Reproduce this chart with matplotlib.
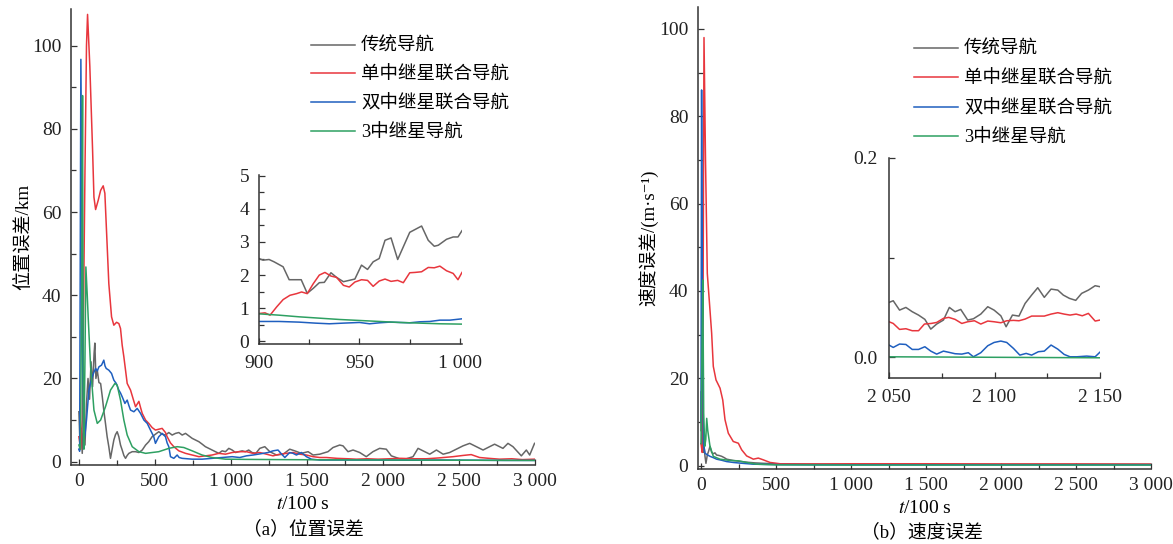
import matplotlib
matplotlib.use("Agg")
import matplotlib.pyplot as plt
from matplotlib.ticker import MultipleLocator, FuncFormatter, FormatStrFormatter

plt.rcParams['font.family'] = ['Liberation Serif', 'Noto Sans CJK SC', 'DejaVu Sans']
plt.rcParams['mathtext.fontset'] = 'stix'

labels = ["传统导航", "单中继星联合导航", "双中继星联合导航", "3中继星导航"]
colors = ["#666666", "#E8363D", "#1F5FBF", "#2EA062"]

# ---- position error, full run ----
pos_t_gray = [0, 8, 15, 22, 30, 40, 50, 60, 70, 80, 90, 100, 105, 112, 121, 132, 143, 154, 165, 175,
              186, 197, 208, 219, 230, 241, 252, 263, 274, 285, 296, 307, 318, 329, 351, 373, 395, 417,
              439, 460, 482, 504, 526, 548, 570, 592, 614, 636, 658, 680, 702, 724, 746, 768, 790, 812,
              833, 855, 877, 899, 921, 943, 965, 987, 1009, 1031, 1053, 1075, 1096, 1118, 1140, 1165,
              1191, 1224, 1257, 1301, 1345, 1388, 1421, 1465, 1509, 1542, 1586, 1640, 1673, 1717, 1739,
              1772, 1805, 1849, 1892, 1936, 1980, 2024, 2057, 2112, 2156, 2200, 2233, 2277, 2310, 2354,
              2398, 2441, 2496, 2529, 2573, 2617, 2661, 2704, 2737, 2792, 2825, 2858, 2913, 2946, 2968, 3000]
pos_gray = [12, 4, 8, 2, 10, 4, 14, 20, 15, 24, 18, 26, 28.5, 20, 22, 19, 18.8, 15.6, 12, 9.2,
            6, 3.6, 0.8, 3, 5.2, 6.5, 7.2, 6, 4, 2.8, 1.5, 0.8, 1.5, 2, 2.4, 2.4, 2.2, 2.8,
            4, 4.8, 6, 6.6, 7.2, 6.6, 6.4, 7, 6.4, 6.8, 7, 6.4, 6.8, 6.2, 5.6, 5.2, 4.8, 4.2,
            3.6, 3.2, 2.8, 2.4, 2, 2.6, 2.4, 3.2, 2.8, 2.2, 2.4, 2.6, 2.4, 2.8, 2.2, 2.0,
            3.2, 3.6, 2.4, 1.6, 1.8, 3.0, 2.6, 2.0, 2.4, 1.6, 1.8, 2.4, 3.4, 4.0, 3.8,
            2.4, 2.8, 2.2, 1.2, 2.4, 3.2, 3.0, 1.4, 0.7, 0.7, 1.2, 3.2, 2.4, 1.8, 2.8,
            1.8, 2.2, 3.2, 3.8, 4.4, 3.6, 2.8, 3.6, 4.2, 3.2, 4.4, 3.6, 1.4, 2.8, 1.6, 4.4]

pos_t_red = [0, 12, 22, 30, 40, 50, 57, 72, 90, 99, 110, 127, 143, 160, 171, 186, 197, 215, 230, 248,
             263, 274, 285, 296, 318, 340, 362, 373, 395, 406, 417, 439, 460, 482, 504, 526, 548, 570,
             581, 603, 625, 658, 702, 746, 790, 833, 877, 921, 965, 1009, 1053, 1103, 1147, 1191, 1235,
             1278, 1322, 1366, 1410, 1454, 1498, 1542, 1586, 1630, 1700, 1770, 1827, 1900, 1970, 2046,
             2120, 2200, 2288, 2370, 2463, 2530, 2583, 2638, 2700, 2770, 2850, 2920, 3000]
pos_red = [6, 3, 10, 35, 70, 100, 107.5, 95, 75, 63.6, 60.6, 62.8, 65.2, 66.3, 64.5, 52, 42.8, 34.8, 32.8, 33.5,
           33.2, 32, 28, 25.2, 18.8, 17.2, 14.5, 13.2, 14.5, 13, 11.6, 10, 9.2, 8.2, 7.6, 7.8, 8, 7,
           6, 4.5, 3.6, 2.6, 2, 1.6, 1.2, 1.4, 1.6, 2, 1.8, 2.2, 2.4, 2.4, 2.0, 2.2, 1.8,
           1.4, 1.8, 2.0, 2.2, 1.8, 1.6, 1.2, 1.0, 1.0, 0.8, 0.7, 0.6, 0.7, 0.6, 0.7,
           0.8, 0.7, 0.7, 0.9, 1.2, 1.5, 1.7, 1.0, 0.8, 0.6, 0.7, 0.5, 0.6]

pos_t_blue = [0, 5, 13, 20, 26, 32, 40, 50, 66, 77, 88, 99, 110, 121, 132, 149, 164, 172, 180, 197,
              215, 230, 246, 263, 274, 285, 303, 318, 329, 340, 362, 384, 406, 428, 450, 471, 493, 504,
              526, 548, 570, 581, 592, 603, 625, 647, 660, 680, 746, 811, 877, 943, 1009, 1059, 1103,
              1147, 1180, 1213, 1245, 1278, 1311, 1335, 1356, 1388, 1410, 1432, 1465, 1498, 1531, 1586,
              1700, 1936, 2200, 2375, 2600, 2800, 3000]
pos_blue = [3, 2.5, 96.7, 60, 20, 5, 6.5, 10, 17.2, 19, 20.4, 21.5, 22.4, 21.8, 22.8, 23.2, 24.4, 23, 22.4, 22,
            21.2, 19.6, 18.8, 17.2, 16.5, 15.6, 14, 14.8, 13.5, 12.4, 12, 12.8, 11.6, 10, 9.2, 7.6, 6, 4.4,
            6, 6.8, 6, 4.5, 3.6, 1.2, 0.8, 1.6, 1.0, 0.8, 0.6, 0.6, 0.8, 1.0, 1.2, 1.0, 1.4,
            1.6, 1.8, 2.0, 2.2, 2.6, 2.8, 1.8, 1.0, 2.2, 2.0, 1.6, 2.2, 1.2, 0.6, 0.4,
            0.4, 0.4, 0.35, 0.4, 0.35, 0.3, 0.3]

pos_t_green = [0, 10, 18, 24, 29, 33, 40, 46, 55, 61, 77, 99, 121, 143, 175, 208, 237, 252, 274, 296,
               318, 351, 395, 439, 482, 526, 592, 647, 691, 746, 811, 877, 965, 1096, 1300, 1600, 2000,
               2500, 3000]
pos_green = [4, 3, 40, 88, 10, 3, 25, 46.8, 40, 34.8, 22.8, 12.4, 9.2, 10, 13.2, 17.2, 18.8, 18.4, 14.8, 10,
             6.4, 3.6, 2.4, 2, 2.2, 2.4, 3.2, 3.6, 3.4, 2.6, 1.6, 1.0, 0.6, 0.55, 0.5, 0.45, 0.4,
             0.35, 0.3]

# ---- position error, 900-1000 detail ----
pz_t_gray = [900, 902, 905, 907.5, 912, 915, 918, 921, 924, 927, 930, 932.5, 935.8, 938.6, 942, 947.7,
             951, 954, 956.8, 959.8, 962.7, 965.7, 969, 975, 980.9, 984.2, 987.2, 989.2, 993.3, 996.6,
             999, 1001]
pz_gray = [2.5, 2.45, 2.47, 2.4, 2.25, 1.86, 1.86, 1.86, 1.45, 1.6, 1.77, 1.78, 2.07, 1.93, 1.8, 1.88,
           2.3, 2.17, 2.4, 2.5, 3.05, 3.12, 2.47, 3.29, 3.48, 3.05, 2.87, 2.9, 3.08, 3.15,
           3.15, 3.34]

pz_t_red = [900, 903, 905.5, 908.8, 912, 915.4, 918.7, 921.2, 924, 927, 930, 932.8, 935.8, 938.6, 942,
            944.9, 947.7, 951, 954, 956.8, 959.8, 962.7, 965.7, 969, 971.8, 975, 977.6, 980.9, 984.2,
            987.2, 990, 993.3, 996.6, 999, 1001]
pz_red = [0.84, 0.86, 0.79, 1.04, 1.26, 1.39, 1.44, 1.49, 1.44, 1.74, 2.0, 2.08, 1.97, 1.93, 1.69,
          1.64, 1.79, 1.86, 1.84, 1.66, 1.82, 1.88, 1.81, 1.84, 1.77, 2.07, 2.08, 2.1, 2.23,
          2.22, 2.27, 2.13, 2.05, 1.86, 2.08]

pz_t_blue = [900, 910, 920, 928, 935, 942, 950, 955, 960, 965, 970, 975, 980, 985, 990, 995, 1001]
pz_blue = [0.6, 0.6, 0.58, 0.55, 0.53, 0.55, 0.57, 0.53, 0.56, 0.58, 0.57, 0.56, 0.59, 0.6, 0.64, 0.64, 0.68]

pz_t_green = [900, 910, 920, 930, 940, 950, 960, 970, 980, 990, 1001]
pz_green = [0.83, 0.79, 0.74, 0.7, 0.66, 0.63, 0.6, 0.57, 0.55, 0.53, 0.52]

# ---- velocity error, full run ----
vel_t_gray = [0, 3, 6, 10, 14, 20, 27, 33, 42, 50, 60, 71, 82, 93, 104, 120, 138, 155, 171, 193,
              215, 260, 304, 360, 415, 500, 700, 1000, 1500, 2000, 2500, 3000]
vel_gray = [8, 17, 5, 12, 3, 4.4, 2.0, 0.5, 2.4, 3.2, 4.4, 3.0, 2.7, 2.9, 2.4, 2.3, 2.1, 1.8, 1.45, 1.3,
            1.15, 0.95, 0.76, 0.6, 0.5, 0.4, 0.35, 0.3, 0.3, 0.3, 0.3, 0.3]

vel_t_red = [0, 8, 14, 20, 30, 42, 55, 71, 82, 100, 127, 145, 160, 182, 215, 249, 271, 304, 349, 382,
             415, 460, 527, 650, 800, 1000, 1500, 2000, 2500, 3000]
vel_red = [5, 3, 40, 98, 70, 44, 37.9, 30.3, 22.7, 19.6, 17.7, 15, 10.5, 7.4, 5.5, 5.1, 3.6, 2.2, 1.45, 1.7,
           1.3, 0.7, 0.4, 0.35, 0.35, 0.4, 0.4, 0.35, 0.35, 0.3]

vel_t_blue = [0, 4, 10, 16, 27, 40, 60, 82, 104, 138, 171, 215, 260, 349, 527, 800, 1500, 3000]
vel_blue = [10, 86, 30, 5.1, 2.8, 2.5, 2.1, 1.8, 1.45, 1.2, 0.9, 0.7, 0.55, 0.3, 0.2, 0.15, 0.15, 0.15]

vel_t_green = [0, 6, 12, 18, 25, 32, 38, 45, 60, 82, 127, 193, 249, 304, 371, 500, 1000, 3000]
vel_green = [5, 25, 42.5, 12, 4.4, 6, 10.8, 8, 4.4, 2.1, 1.45, 1.15, 1.07, 0.7, 0.3, 0.15, 0.1, 0.1]

# ---- velocity error, 2050-2150 detail ----
vz_t_gray = [2050, 2052, 2055, 2058, 2061, 2064, 2067, 2069.8, 2072.6, 2075.8, 2078.6, 2081.3, 2084,
             2087.3, 2090, 2093.5, 2096.8, 2099.8, 2103, 2105.5, 2108.5, 2111.6, 2114.5, 2117.6, 2120.5,
             2123.6, 2126.8, 2130, 2132.6, 2135.5, 2138.5, 2141.3, 2144.5, 2147.7, 2150]
vz_gray = [0.0549, 0.0566, 0.0472, 0.0499, 0.0456, 0.0422, 0.0379, 0.0281, 0.0332, 0.0372, 0.0499, 0.0456,
           0.0479, 0.0372, 0.0385, 0.0432, 0.0506, 0.0472, 0.0415, 0.0305, 0.0422, 0.0412, 0.0539, 0.0623,
           0.0697, 0.06, 0.0683, 0.0673, 0.0623, 0.059, 0.057, 0.064, 0.0673, 0.0717, 0.0707]

vz_t_red = [2050, 2052, 2055, 2058, 2061, 2064, 2066.8, 2070, 2072.6, 2075.8, 2078.3, 2081.3, 2084.5,
            2087.3, 2090.5, 2093.5, 2096.8, 2099.8, 2103, 2105.8, 2109, 2111.6, 2114.5, 2117.6, 2120.8,
            2123.6, 2126.8, 2130, 2133, 2135.8, 2138.7, 2141.6, 2144.5, 2147.7, 2150]
vz_red = [0.0355, 0.0338, 0.0278, 0.0285, 0.0265, 0.0265, 0.0332, 0.0338, 0.0348, 0.0389, 0.0399, 0.0379,
          0.0338, 0.0355, 0.0365, 0.0332, 0.0362, 0.0355, 0.0345, 0.0365, 0.0369, 0.0365, 0.0382, 0.0412,
          0.0412, 0.0412, 0.0432, 0.0446, 0.0432, 0.0422, 0.0432, 0.0415, 0.0439, 0.0362, 0.0372]

vz_t_blue = [2050, 2052, 2055, 2058, 2061, 2064, 2067, 2069.8, 2072.6, 2075.8, 2078.6, 2081.3, 2084.5,
             2087.6, 2090, 2093.5, 2096.8, 2099.8, 2103, 2105.8, 2109, 2112, 2115, 2117.6, 2120.8,
             2123.6, 2126.8, 2130, 2133, 2135.8, 2139, 2143.7, 2147.7, 2150]
vz_blue = [0.0121, 0.0097, 0.0131, 0.0127, 0.0077, 0.0077, 0.0104, 0.006, 0.003, 0.006, 0.0047, 0.0034,
           0.003, 0.0044, 0.0003, 0.0044, 0.0114, 0.0147, 0.0161, 0.0147, 0.0087, 0.002, 0.0037, 0.002,
           0.0054, 0.006, 0.0121, 0.008, 0.0027, 0.0003, 0.0003, 0.001, 0.0003, 0.005]

vz_t_green = [2050, 2100, 2150]
vz_green = [0.0003, -0.0002, -0.0007]

pos_series = [(pos_t_gray, pos_gray), (pos_t_red, pos_red), (pos_t_blue, pos_blue), (pos_t_green, pos_green)]
pz_series = [(pz_t_gray, pz_gray), (pz_t_red, pz_red), (pz_t_blue, pz_blue), (pz_t_green, pz_green)]
vel_series = [(vel_t_gray, vel_gray), (vel_t_red, vel_red), (vel_t_blue, vel_blue), (vel_t_green, vel_green)]
vz_series = [(vz_t_gray, vz_gray), (vz_t_red, vz_red), (vz_t_blue, vz_blue), (vz_t_green, vz_green)]

TICK = 14
LEG = 13.3
thousands = FuncFormatter(lambda v, p: f"{int(round(v)):,}".replace(",", " "))


def style(ax, xpad, ypad):
    for s in ["top", "right"]:
        ax.spines[s].set_visible(False)
    for s in ["left", "bottom"]:
        ax.spines[s].set_linewidth(1.1)
        ax.spines[s].set_color("#333333")
    ax.tick_params(which="major", direction="in", length=4.5, width=0.9, colors="#333333",
                   labelsize=TICK, labelcolor="#222222")
    ax.tick_params(which="minor", direction="in", length=3.5, width=0.9, colors="#333333")
    ax.tick_params(axis="x", which="major", pad=xpad)
    ax.tick_params(axis="y", which="major", pad=ypad)
    ax.set_facecolor("none")


fig = plt.figure(figsize=(11.73, 5.44), dpi=100)

ax1 = fig.add_axes([71 / 1173, 1 - 465 / 544, 464 / 1173, 456 / 544])
ax2 = fig.add_axes([698 / 1173, 1 - 469 / 544, 453 / 1173, 462 / 544])
in1 = fig.add_axes([259 / 1173, 1 - 344 / 544, 203 / 1173, 169 / 544])
in2 = fig.add_axes([889 / 1173, 1 - 378 / 544, 211 / 1173, 220 / 544])

for (t, v), c, lab in zip(pos_series, colors, labels):
    ax1.plot(t, v, color=c, lw=1.1, label=lab)
for (t, v), c in zip(pz_series, colors):
    in1.plot(t, v, color=c, lw=1.1)
for (t, v), c, lab in zip(vel_series, colors, labels):
    ax2.plot(t, v, color=c, lw=1.1, label=lab)
for (t, v), c in zip(vz_series, colors):
    in2.plot(t, v, color=c, lw=1.1)

# main axes
ax1.set_xlim(-52, 3003)
ax1.set_ylim(-0.8, 108.8)
ax2.set_xlim(-20, 3000)
ax2.set_ylim(-0.8, 105)
for ax in (ax1, ax2):
    style(ax, 6, 7)
    ax.xaxis.set_major_locator(MultipleLocator(500))
    ax.xaxis.set_minor_locator(MultipleLocator(250))
    ax.yaxis.set_major_locator(MultipleLocator(20))
    ax.yaxis.set_minor_locator(MultipleLocator(10))
    ax.xaxis.set_major_formatter(thousands)
    ax.set_xlabel("$t$/100 s", fontsize=TICK, labelpad=4)

ax1.set_ylabel("位置误差/km", fontsize=13.8, labelpad=0)
ax2.set_ylabel("速度误差/(m·s⁻¹)", fontsize=13.5, labelpad=0)

# detail axes
in1.set_xlim(900, 1001)
in1.set_ylim(-0.08, 5.02)
in1.xaxis.set_major_locator(MultipleLocator(50))
in1.xaxis.set_minor_locator(MultipleLocator(25))
in1.yaxis.set_major_locator(MultipleLocator(1))
in1.yaxis.set_minor_locator(MultipleLocator(0.5))
in1.xaxis.set_major_formatter(thousands)

in2.set_xlim(2050, 2150)
in2.set_ylim(-0.021, 0.2)
in2.xaxis.set_major_locator(MultipleLocator(50))
in2.xaxis.set_minor_locator(MultipleLocator(25))
in2.yaxis.set_major_locator(MultipleLocator(0.2))
in2.yaxis.set_minor_locator(MultipleLocator(0.1))
in2.xaxis.set_major_formatter(thousands)
in2.yaxis.set_major_formatter(FormatStrFormatter("%.1f"))
style(in1, 8, 7)
style(in2, 8, 8)

# legends
ax1.legend(loc="upper left", bbox_to_anchor=(311 / 1173, 1 - 38 / 544), bbox_transform=fig.transFigure,
           frameon=False, fontsize=LEG, handlelength=2.4, handletextpad=0.3, labelspacing=0.62,
           borderpad=0, borderaxespad=0)
ax2.legend(loc="upper left", bbox_to_anchor=(914 / 1173, 1 - 41 / 544), bbox_transform=fig.transFigure,
           frameon=False, fontsize=LEG, handlelength=2.4, handletextpad=0.3, labelspacing=0.66,
           borderpad=0, borderaxespad=0)

fig.text(303 / 1173, 1 - 529 / 544, "（a）位置误差", ha="center", va="center", fontsize=13.5)
fig.text(922 / 1173, 1 - 532 / 544, "（b）速度误差", ha="center", va="center", fontsize=13.5)

fig.savefig("out.png", dpi=100)
